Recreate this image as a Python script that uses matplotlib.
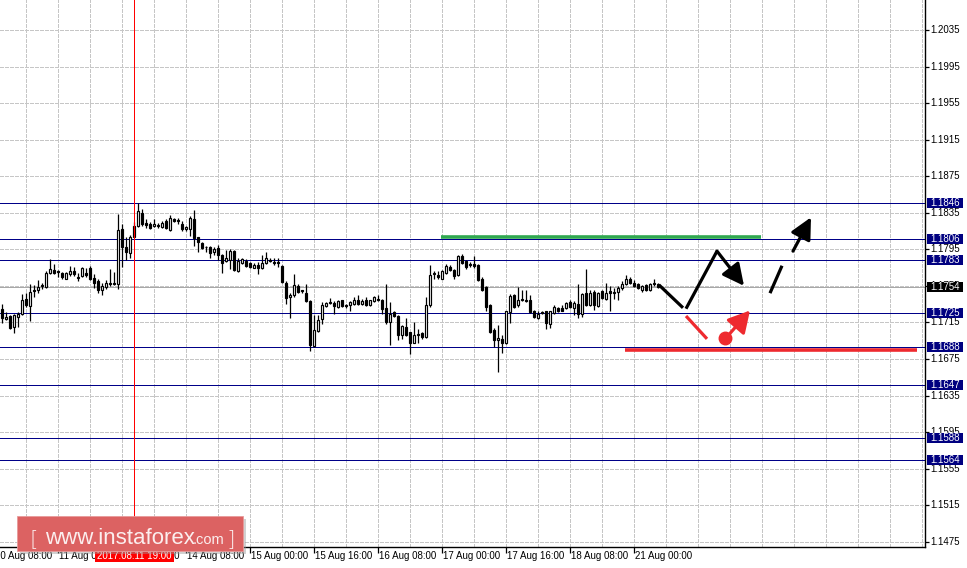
import matplotlib
matplotlib.use('Agg')
import matplotlib.pyplot as plt
import numpy as np
from matplotlib.patches import Rectangle, FancyBboxPatch, FancyArrowPatch
from matplotlib.transforms import blended_transform_factory

# ---------------- data (EURUSD H1) ----------------
first_bar = 2  # bar index of first visible candle (bar 0 = 10 Aug 08:00)
opens = [1.1730, 1.1719, 1.1722, 1.1710, 1.1721, 1.1724, 1.1741, 1.1733, 1.1750, 1.1750,
         1.1755, 1.1754, 1.1769, 1.1772, 1.1771, 1.1769, 1.1763, 1.1768, 1.1771, 1.1765,
         1.1766, 1.1769, 1.1775, 1.1764, 1.1760, 1.1750, 1.1754, 1.1758, 1.1758, 1.1757,
         1.1817, 1.1797, 1.1791, 1.1809, 1.1820, 1.1835, 1.1824, 1.1823, 1.1820, 1.1822,
         1.1819, 1.1826, 1.1816, 1.1828, 1.1827, 1.1823, 1.1817, 1.1817, 1.1828, 1.1808,
         1.1802, 1.1798, 1.1797, 1.1792, 1.1796, 1.1789, 1.1782, 1.1783, 1.1793, 1.1771,
         1.1780, 1.1782, 1.1780, 1.1775, 1.1778, 1.1774, 1.1780, 1.1783, 1.1781, 1.1781,
         1.1777, 1.1758, 1.1743, 1.1745, 1.1755, 1.1750, 1.1747, 1.1738, 1.1689, 1.1706,
         1.1719, 1.1733, 1.1737, 1.1736, 1.1732, 1.1739, 1.1734, 1.1734, 1.1735, 1.1739,
         1.1735, 1.1739, 1.1734, 1.1738, 1.1741, 1.1740, 1.1731, 1.1715, 1.1726, 1.1722,
         1.1701, 1.1710, 1.1704, 1.1693, 1.1702, 1.1703, 1.1699, 1.1734, 1.1769, 1.1767,
         1.1763, 1.1769, 1.1776, 1.1772, 1.1767, 1.1788, 1.1782, 1.1779, 1.1779, 1.1778,
         1.1763, 1.1754, 1.1734, 1.1707, 1.1696, 1.1697, 1.1692, 1.1726, 1.1745, 1.1734,
         1.1741, 1.1740, 1.1740, 1.1728, 1.1720, 1.1726, 1.1727, 1.1713, 1.1725, 1.1731,
         1.1731, 1.1731, 1.1737, 1.1731, 1.1735, 1.1724, 1.1747, 1.1734, 1.1748, 1.1733,
         1.1749, 1.1741, 1.1749, 1.1748, 1.1748, 1.1753, 1.1757, 1.1763, 1.1758, 1.1757,
         1.1751, 1.1756, 1.1750, 1.1758, 1.1757]
highs = [1.1735, 1.1726, 1.1723, 1.1724, 1.1726, 1.1746, 1.1747, 1.1757, 1.1756, 1.1761,
         1.1758, 1.1771, 1.1784, 1.1779, 1.1772, 1.1770, 1.1770, 1.1777, 1.1776, 1.1769,
         1.1776, 1.1775, 1.1777, 1.1768, 1.1762, 1.1758, 1.1761, 1.1773, 1.1770, 1.1834,
         1.1823, 1.1808, 1.1811, 1.1825, 1.1846, 1.1839, 1.1828, 1.1825, 1.1828, 1.1824,
         1.1826, 1.1828, 1.1833, 1.1829, 1.1829, 1.1826, 1.1821, 1.1831, 1.1838, 1.1809,
         1.1803, 1.1799, 1.1799, 1.1797, 1.1800, 1.1790, 1.1794, 1.1795, 1.1794, 1.1785,
         1.1786, 1.1784, 1.1781, 1.1780, 1.1781, 1.1789, 1.1792, 1.1785, 1.1785, 1.1785,
         1.1778, 1.1760, 1.1747, 1.1768, 1.1757, 1.1751, 1.1757, 1.1739, 1.1723, 1.1723,
         1.1737, 1.1737, 1.1742, 1.1738, 1.1740, 1.1740, 1.1735, 1.1738, 1.1743, 1.1745,
         1.1741, 1.1743, 1.1740, 1.1744, 1.1745, 1.1741, 1.1757, 1.1737, 1.1727, 1.1723,
         1.1712, 1.1720, 1.1705, 1.1715, 1.1708, 1.1704, 1.1743, 1.1778, 1.1771, 1.1771,
         1.1772, 1.1779, 1.1778, 1.1773, 1.1789, 1.1790, 1.1783, 1.1781, 1.1788, 1.1779,
         1.1765, 1.1755, 1.1735, 1.1709, 1.1712, 1.1701, 1.1728, 1.1746, 1.1746, 1.1754,
         1.1751, 1.1751, 1.1745, 1.1729, 1.1728, 1.1727, 1.1728, 1.1728, 1.1734, 1.1732,
         1.1734, 1.1737, 1.1740, 1.1738, 1.1757, 1.1747, 1.1773, 1.1751, 1.1750, 1.1748,
         1.1750, 1.1758, 1.1755, 1.1753, 1.1755, 1.1760, 1.1767, 1.1765, 1.1761, 1.1758,
         1.1756, 1.1757, 1.1758, 1.1762, 1.1758]
lows = [1.1714, 1.1718, 1.1708, 1.1703, 1.1710, 1.1723, 1.1732, 1.1717, 1.1743, 1.1747,
        1.1752, 1.1753, 1.1768, 1.1768, 1.1765, 1.1763, 1.1762, 1.1766, 1.1766, 1.1760,
        1.1765, 1.1765, 1.1761, 1.1753, 1.1747, 1.1745, 1.1752, 1.1755, 1.1756, 1.1752,
        1.1776, 1.1783, 1.1785, 1.1808, 1.1819, 1.1820, 1.1818, 1.1817, 1.1819, 1.1818,
        1.1818, 1.1817, 1.1815, 1.1825, 1.1823, 1.1815, 1.1815, 1.1810, 1.1799, 1.1792,
        1.1795, 1.1792, 1.1785, 1.1789, 1.1783, 1.1769, 1.1781, 1.1773, 1.1771, 1.1770,
        1.1779, 1.1776, 1.1774, 1.1774, 1.1768, 1.1773, 1.1779, 1.1781, 1.1778, 1.1776,
        1.1758, 1.1735, 1.1720, 1.1743, 1.1747, 1.1747, 1.1737, 1.1684, 1.1688, 1.1704,
        1.1713, 1.1732, 1.1735, 1.1724, 1.1731, 1.1732, 1.1731, 1.1728, 1.1734, 1.1734,
        1.1734, 1.1733, 1.1733, 1.1737, 1.1738, 1.1724, 1.1713, 1.1690, 1.1721, 1.1696,
        1.1697, 1.1700, 1.1680, 1.1692, 1.1693, 1.1697, 1.1698, 1.1732, 1.1763, 1.1763,
        1.1762, 1.1768, 1.1771, 1.1763, 1.1766, 1.1779, 1.1773, 1.1776, 1.1774, 1.1760,
        1.1749, 1.1728, 1.1703, 1.1688, 1.1661, 1.1681, 1.1691, 1.1714, 1.1731, 1.1732,
        1.1738, 1.1737, 1.1725, 1.1720, 1.1719, 1.1724, 1.1708, 1.1709, 1.1724, 1.1726,
        1.1727, 1.1730, 1.1731, 1.1723, 1.1720, 1.1721, 1.1733, 1.1733, 1.1729, 1.1732,
        1.1741, 1.1740, 1.1728, 1.1741, 1.1740, 1.1751, 1.1756, 1.1757, 1.1754, 1.1752,
        1.1748, 1.1749, 1.1749, 1.1755, 1.1753]
closes = [1.1720, 1.1721, 1.1709, 1.1723, 1.1724, 1.1740, 1.1734, 1.1748, 1.1749, 1.1754,
          1.1756, 1.1769, 1.1773, 1.1769, 1.1770, 1.1765, 1.1769, 1.1771, 1.1768, 1.1764,
          1.1774, 1.1767, 1.1762, 1.1758, 1.1751, 1.1755, 1.1758, 1.1757, 1.1757, 1.1816,
          1.1797, 1.1792, 1.1809, 1.1820, 1.1837, 1.1823, 1.1822, 1.1818, 1.1823, 1.1821,
          1.1824, 1.1818, 1.1829, 1.1826, 1.1826, 1.1817, 1.1819, 1.1829, 1.1807, 1.1803,
          1.1796, 1.1797, 1.1791, 1.1795, 1.1789, 1.1780, 1.1785, 1.1793, 1.1772, 1.1782,
          1.1784, 1.1777, 1.1776, 1.1778, 1.1774, 1.1780, 1.1785, 1.1782, 1.1780, 1.1780,
          1.1759, 1.1742, 1.1745, 1.1756, 1.1748, 1.1749, 1.1738, 1.1690, 1.1707, 1.1718,
          1.1734, 1.1736, 1.1736, 1.1733, 1.1738, 1.1733, 1.1733, 1.1737, 1.1740, 1.1735,
          1.1738, 1.1734, 1.1739, 1.1743, 1.1740, 1.1730, 1.1715, 1.1724, 1.1722, 1.1701,
          1.1711, 1.1701, 1.1693, 1.1701, 1.1701, 1.1699, 1.1734, 1.1767, 1.1768, 1.1765,
          1.1771, 1.1777, 1.1772, 1.1766, 1.1788, 1.1780, 1.1776, 1.1778, 1.1777, 1.1761,
          1.1750, 1.1732, 1.1705, 1.1696, 1.1698, 1.1692, 1.1727, 1.1744, 1.1732, 1.1740,
          1.1740, 1.1738, 1.1726, 1.1721, 1.1724, 1.1725, 1.1714, 1.1727, 1.1732, 1.1727,
          1.1728, 1.1736, 1.1732, 1.1736, 1.1724, 1.1746, 1.1734, 1.1747, 1.1734, 1.1747,
          1.1742, 1.1747, 1.1747, 1.1747, 1.1753, 1.1757, 1.1762, 1.1758, 1.1755, 1.1753,
          1.1755, 1.1750, 1.1757, 1.1757, 1.1754]

price_ticks = [1.2035, 1.1995, 1.1955, 1.1915, 1.1875, 1.1835, 1.1795, 1.1755,
               1.1715, 1.1675, 1.1635, 1.1595, 1.1555, 1.1515, 1.1475]
time_bars = [0, 16, 32, 48, 64, 80, 96, 112, 128, 144, 160]
time_labels = ['10 Aug 08:00', '11 Aug 00:00', '11 Aug 16:00', '14 Aug 08:00',
               '15 Aug 00:00', '15 Aug 16:00', '16 Aug 08:00', '17 Aug 00:00',
               '17 Aug 16:00', '18 Aug 08:00', '21 Aug 00:00']
levels = [1.1846, 1.1806, 1.1783, 1.1725, 1.1688, 1.1647, 1.1588, 1.1564]
bid_price = 1.1754
marker_bar = 35
marker_label = '2017.08.11 19:00'

# forecast drawings: (bar, price)
green_line = [(111.75, 1.1809), (191.75, 1.1809)]
red_line = [(157.75, 1.1685), (230.75, 1.1685)]
black_seg1 = [(166.25, 1.1756), (172.25, 1.1731)]
black_seg2 = [(173.0, 1.1730), (180.75, 1.1793)]
black_arrow1 = [(180.75, 1.1793), (187.5, 1.1755)]
black_seg3 = [(194.0, 1.1747), (197.0, 1.1777)]
black_arrow2 = [(199.75, 1.1793), (204.25, 1.1830)]
red_seg = [(173.0, 1.1722), (178.25, 1.1697)]
red_dot = (182.75, 1.1698)
red_arrow = [(184.0, 1.1703), (189.0, 1.1728)]

# ---------------- figure ----------------
W, H = 967, 568
fig = plt.figure(figsize=(W / 100, H / 100), dpi=100)
fig.patch.set_facecolor('white')
PX = 9137.5           # pixels per price unit
BAR_PX = 4.0          # pixels per bar
plot_w, plot_h = 925, 547
ax = fig.add_axes([0, (H - plot_h) / H, plot_w / W, plot_h / H])
y_top = 1.2035 + 30 / PX
ax.set_ylim(y_top - plot_h / PX, y_top)
ax.set_xlim(1.5, 1.5 + plot_w / BAR_PX)
ax.set_facecolor('white')
for s in ['top', 'left']:
    ax.spines[s].set_visible(False)
for s in ['right', 'bottom']:
    ax.spines[s].set_color('black')
    ax.spines[s].set_linewidth(1.0)

FONT = 'Liberation Sans'
FS = 7.0
ONE_PX = 0.72
grid_kw = dict(color='#c6c6c6', lw=ONE_PX, linestyle=(0, (3, 2)), zorder=0, antialiased=False)
for p in price_ticks:
    ax.axhline(p, **grid_kw)
for b in range(0, 240, 8):
    ax.axvline(b, **grid_kw)

# ticks
ax.set_xticks([b for b in time_bars if b > 1.5])
ax.set_xticklabels([])
ax.tick_params(axis='x', direction='out', length=4, width=0.9, color='black')
ax.yaxis.tick_right()
ax.set_yticks(price_ticks)
ax.set_yticklabels([])
ax.tick_params(axis='y', direction='out', length=3, width=0.9, color='black')

# levels
for lv in levels:
    ax.axhline(lv, color='#000088', lw=ONE_PX, zorder=2, snap=True)
ax.axhline(bid_price, color='#a8a8a8', lw=ONE_PX, zorder=1, snap=True)

# candles
xs = np.arange(len(opens)) + first_bar
o = np.array(opens); c = np.array(closes); hi = np.array(highs); lo = np.array(lows)
ax.vlines(xs, lo, hi, color='black', lw=0.9, zorder=3)
up = c >= o
body_bottom = np.minimum(o, c)
body_h = np.maximum(np.abs(c - o), 0.00004)
ax.bar(xs[up], body_h[up], bottom=body_bottom[up], width=0.6, color='white',
       edgecolor='black', linewidth=0.85, zorder=4)
ax.bar(xs[~up], body_h[~up], bottom=body_bottom[~up], width=0.6, color='black',
       edgecolor='black', linewidth=0.85, zorder=4)

# marker line
ax.axvline(marker_bar, color='#ff0000', lw=ONE_PX, zorder=5, antialiased=False)

# forecast drawings
ax.plot(*zip(*green_line), color='#2fa84f', lw=2.6, solid_capstyle='butt', zorder=6)
ax.plot(*zip(*red_line), color='#ee2a2f', lw=2.6, solid_capstyle='butt', zorder=6)
for seg in [black_seg1, black_seg2, black_seg3]:
    ax.plot(*zip(*seg), color='black', lw=2.3, solid_capstyle='butt', zorder=7)
for seg in [black_arrow1, black_arrow2]:
    ax.add_patch(FancyArrowPatch(seg[0], seg[1], arrowstyle='-|>,head_length=1.0,head_width=0.5',
                                 mutation_scale=13, lw=2.3, color='black', shrinkA=0, shrinkB=0,
                                 zorder=7))
ax.plot(*zip(*red_seg), color='#ee2a2f', lw=2.3, solid_capstyle='butt', zorder=7)
ax.plot([red_dot[0]], [red_dot[1]], 'o', color='#ee2a2f', ms=9, zorder=7)
ax.add_patch(FancyArrowPatch(red_arrow[0], red_arrow[1], arrowstyle='-|>,head_length=1.0,head_width=0.55',
                             mutation_scale=13, lw=2.3, color='#ee2a2f', shrinkA=0, shrinkB=0, zorder=7))

# right axis labels
tr_r = blended_transform_factory(fig.transFigure, ax.transData)
for p in price_ticks:
    ax.text(930 / W, p, f'{p:.4f}', transform=tr_r, ha='left', va='center',
            fontsize=FS, family=FONT, color='black', clip_on=False, zorder=8)
box_h = 10 / PX
for lv in levels:
    ax.add_patch(Rectangle((927 / W, lv - box_h / 2), 36 / W, box_h, transform=tr_r,
                           facecolor='#000080', edgecolor='none', clip_on=False, zorder=9))
    ax.text(930 / W, lv, f'{lv:.4f}', transform=tr_r, ha='left', va='center',
            fontsize=FS, family=FONT, color='white', clip_on=False, zorder=10)
ax.add_patch(Rectangle((927 / W, bid_price - box_h / 2), 36 / W, box_h, transform=tr_r,
                       facecolor='black', edgecolor='none', clip_on=False, zorder=9))
ax.text(930 / W, bid_price, f'{bid_price:.4f}', transform=tr_r, ha='left', va='center',
        fontsize=FS, family=FONT, color='white', clip_on=False, zorder=10)

# bottom time labels
tr_b = blended_transform_factory(ax.transData, fig.transFigure)
for b, lab in zip(time_bars, time_labels):
    ax.text(b + 0.2, (H - 556) / H, lab, transform=tr_b, ha='left', va='center',
            fontsize=FS, family=FONT, color='black', clip_on=False, zorder=8)
ax.add_patch(Rectangle((marker_bar - 39.5 / BAR_PX, (H - 562) / H), 79 / BAR_PX, 12 / H,
                       transform=tr_b, facecolor='#ff0000', edgecolor='none', clip_on=False, zorder=9))
ax.text(marker_bar, (H - 556) / H, marker_label, transform=tr_b, ha='center', va='center',
        fontsize=FS, family=FONT, color='white', clip_on=False, zorder=10)

# logo
def fx(x):
    return x / W
def fy(y_img):
    return (H - y_img) / H
shadow = FancyBboxPatch((fx(20), fy(554)), fx(226), 35 / H, boxstyle='square,pad=0',
                        transform=fig.transFigure, facecolor='#999999', edgecolor='none',
                        alpha=0.45, zorder=20)
fig.patches.append(shadow)
logo = FancyBboxPatch((fx(17), fy(551)), fx(226), 35 / H, boxstyle='square,pad=0',
                      transform=fig.transFigure, facecolor='#dc6262', edgecolor='#e89a9a',
                      lw=0.6, zorder=21)
fig.patches.append(logo)
tc = '#fbeeee'
fig.text(fx(29), fy(545), '[', fontsize=16, family='DejaVu Sans', color=tc, va='baseline',
         ha='left', zorder=22, fontweight='light')
fig.text(fx(45), fy(544), 'www.instaforex', fontsize=16, family=FONT, color=tc,
         va='baseline', ha='left', zorder=22)
fig.text(fx(193), fy(544), '.com', fontsize=10.5, family=FONT, color=tc,
         va='baseline', ha='left', zorder=22)
fig.text(fx(226), fy(545), ']', fontsize=16, family='DejaVu Sans', color=tc, va='baseline',
         ha='left', zorder=22, fontweight='light')

fig.savefig('out.png', dpi=100, facecolor='white')
